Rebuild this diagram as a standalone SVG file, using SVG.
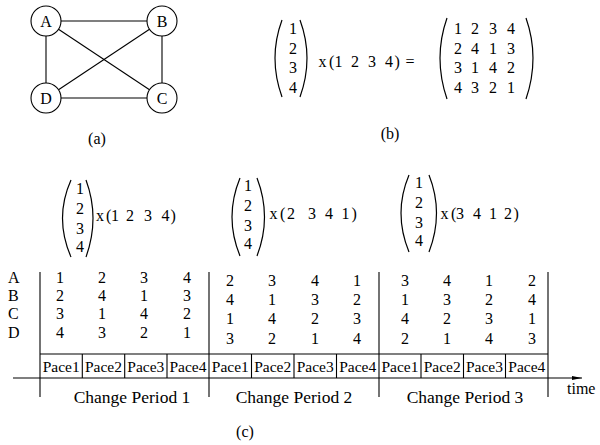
<svg xmlns="http://www.w3.org/2000/svg" width="600" height="445" viewBox="0 0 600 445" font-family="'Liberation Serif', 'Times New Roman', Times, serif">
<style>
text{font-family:'Liberation Serif','Times New Roman',Times,serif;font-size:16px;fill:#000}
.m{text-anchor:middle}
.cp{font-size:17.5px;text-anchor:middle}
.pc{font-size:15.5px;text-anchor:middle}
.ln{stroke:#000;stroke-width:1.1;fill:none}
.nd{stroke:#000;stroke-width:1.1;fill:#fff}
.par{stroke:#000;stroke-width:1.2;fill:none}
</style>
<defs>
<marker id="arr" markerWidth="10" markerHeight="6" refX="10" refY="3" orient="auto" markerUnits="userSpaceOnUse">
<path d="M0,1 L10,3 L0,5 Z" fill="#000"/>
</marker>
</defs>

<!-- (a) graph -->
<g id="edges">
<line class="ln" x1="61" y1="21" x2="147" y2="21"/>
<line class="ln" x1="46" y1="36" x2="46" y2="83"/>
<line class="ln" x1="162" y1="36" x2="162" y2="83"/>
<line class="ln" x1="61" y1="98" x2="147" y2="98"/>
<line class="ln" x1="58.5" y1="29.3" x2="149.5" y2="89.7"/>
<line class="ln" x1="149.5" y1="29.3" x2="58.5" y2="89.7"/>
</g>
<g id="nodeA"><circle class="nd" cx="46" cy="21" r="15"/><text class="m" x="46" y="26.5">A</text></g>
<g id="nodeB"><circle class="nd" cx="162" cy="21" r="15"/><text class="m" x="162" y="26.5">B</text></g>
<g id="nodeC"><circle class="nd" cx="162" cy="98" r="15"/><text class="m" x="162" y="103.5">C</text></g>
<g id="nodeD"><circle class="nd" cx="46" cy="98" r="15"/><text class="m" x="46" y="103.5">D</text></g>
<text class="m" x="97" y="144">(a)</text>

<!-- (b) -->
<g id="eqb">
<path class="par" d="M282,20 Q268,58 282,97"/>
<path class="par" d="M300,20 Q314,58 300,97"/>
<text class="m" x="293" y="34">1</text>
<text class="m" x="293" y="54">2</text>
<text class="m" x="293" y="73">3</text>
<text class="m" x="293" y="92.5">4</text>
<text x="318.5" y="67">x</text>
<text x="329" y="67">(</text>
<text class="m" x="338.5" y="67">1</text>
<text class="m" x="355" y="67">2</text>
<text class="m" x="372" y="67">3</text>
<text class="m" x="389" y="67">4</text>
<text x="394.5" y="67">)</text>
<text x="405.5" y="67">=</text>
<path class="par" d="M447,18 Q433,58 447,99"/>
<path class="par" d="M526,18 Q540,58 526,99"/>
<text class="m" x="458" y="34">1</text><text class="m" x="475" y="34">2</text><text class="m" x="493" y="34">3</text><text class="m" x="511" y="34">4</text>
<text class="m" x="458" y="54">2</text><text class="m" x="475" y="54">4</text><text class="m" x="493" y="54">1</text><text class="m" x="511" y="54">3</text>
<text class="m" x="458" y="73">3</text><text class="m" x="475" y="73">1</text><text class="m" x="493" y="73">4</text><text class="m" x="511" y="73">2</text>
<text class="m" x="458" y="92.5">4</text><text class="m" x="475" y="92.5">3</text><text class="m" x="493" y="92.5">2</text><text class="m" x="511" y="92.5">1</text>
</g>
<text class="m" x="390" y="139">(b)</text>

<!-- (c) vectors -->
<g id="vec1">
<path class="par" d="M71,180 Q54,218 71,257"/>
<path class="par" d="M86,180 Q100,218 86,257"/>
<text class="m" x="80" y="194">1</text>
<text class="m" x="80" y="214">2</text>
<text class="m" x="80" y="233.5">3</text>
<text class="m" x="80" y="252">4</text>
<text x="96" y="221">x</text>
<text x="106" y="221">(</text>
<text class="m" x="115" y="221">1</text>
<text class="m" x="130" y="221">2</text>
<text class="m" x="148" y="221">3</text>
<text class="m" x="165.5" y="221">4</text>
<text x="170.5" y="221">)</text>
</g>
<g id="vec2">
<path class="par" d="M240,178 Q224,217 240,256"/>
<path class="par" d="M257,178 Q272,217 257,256"/>
<text class="m" x="248" y="191">1</text>
<text class="m" x="248" y="211">2</text>
<text class="m" x="248" y="230.5">3</text>
<text class="m" x="248" y="249">4</text>
<text x="269.5" y="219">x</text>
<text x="280" y="219">(</text>
<text class="m" x="291" y="219">2</text>
<text class="m" x="312" y="219">3</text>
<text class="m" x="329" y="219">4</text>
<text class="m" x="345.5" y="219">1</text>
<text x="351.5" y="219">)</text>
</g>
<g id="vec3">
<path class="par" d="M409,175 Q393,213 409,252"/>
<path class="par" d="M429,175 Q444,213 429,252"/>
<text class="m" x="419" y="188">1</text>
<text class="m" x="419" y="208">2</text>
<text class="m" x="419" y="227.5">3</text>
<text class="m" x="419" y="246">4</text>
<text x="440.5" y="219">x</text>
<text x="451" y="219">(</text>
<text class="m" x="460" y="219">3</text>
<text class="m" x="477" y="219">4</text>
<text class="m" x="493" y="219">1</text>
<text class="m" x="508" y="219">2</text>
<text x="513.5" y="219">)</text>
</g>

<!-- table -->
<g id="rowlabels">
<text x="8" y="282.5">A</text>
<text x="8" y="300.5">B</text>
<text x="8" y="318.5">C</text>
<text x="8" y="337.5">D</text>
</g>
<g id="period1">
<text class="m" x="60" y="282.5">1</text><text class="m" x="102" y="282.5">2</text><text class="m" x="144" y="282.5">3</text><text class="m" x="187" y="282.5">4</text>
<text class="m" x="60" y="300.5">2</text><text class="m" x="102" y="300.5">4</text><text class="m" x="144" y="300.5">1</text><text class="m" x="187" y="300.5">3</text>
<text class="m" x="60" y="318.5">3</text><text class="m" x="102" y="318.5">1</text><text class="m" x="144" y="318.5">4</text><text class="m" x="187" y="318.5">2</text>
<text class="m" x="60" y="337.5">4</text><text class="m" x="102" y="337.5">3</text><text class="m" x="144" y="337.5">2</text><text class="m" x="187" y="337.5">1</text>
</g>
<g id="period2">
<text class="m" x="230" y="285.5">2</text><text class="m" x="272" y="285.5">3</text><text class="m" x="315" y="285.5">4</text><text class="m" x="357" y="285.5">1</text>
<text class="m" x="230" y="304.5">4</text><text class="m" x="272" y="304.5">1</text><text class="m" x="315" y="304.5">3</text><text class="m" x="357" y="304.5">2</text>
<text class="m" x="230" y="324">1</text><text class="m" x="272" y="324">4</text><text class="m" x="315" y="324">2</text><text class="m" x="357" y="324">3</text>
<text class="m" x="230" y="343.5">3</text><text class="m" x="272" y="343.5">2</text><text class="m" x="315" y="343.5">1</text><text class="m" x="357" y="343.5">4</text>
</g>
<g id="period3">
<text class="m" x="405" y="285.5">3</text><text class="m" x="447" y="285.5">4</text><text class="m" x="489" y="285.5">1</text><text class="m" x="532" y="285.5">2</text>
<text class="m" x="405" y="304.5">1</text><text class="m" x="447" y="304.5">3</text><text class="m" x="489" y="304.5">2</text><text class="m" x="532" y="304.5">4</text>
<text class="m" x="405" y="324">4</text><text class="m" x="447" y="324">2</text><text class="m" x="489" y="324">3</text><text class="m" x="532" y="324">1</text>
<text class="m" x="405" y="343.5">2</text><text class="m" x="447" y="343.5">1</text><text class="m" x="489" y="343.5">4</text><text class="m" x="532" y="343.5">3</text>
</g>

<g id="timeline">
<line class="ln" x1="40" y1="272" x2="40" y2="397"/>
<line class="ln" x1="209" y1="272" x2="209" y2="397"/>
<line class="ln" x1="379" y1="272" x2="379" y2="397"/>
<line class="ln" x1="548" y1="272" x2="548" y2="397"/>
<line class="ln" x1="40" y1="354" x2="548" y2="354"/>
<line class="ln" x1="13" y1="378" x2="582" y2="378" marker-end="url(#arr)"/>
<line class="ln" x1="82.3" y1="354" x2="82.3" y2="378"/>
<line class="ln" x1="124.7" y1="354" x2="124.7" y2="378"/>
<line class="ln" x1="167" y1="354" x2="167" y2="378"/>
<line class="ln" x1="251.5" y1="354" x2="251.5" y2="378"/>
<line class="ln" x1="294" y1="354" x2="294" y2="378"/>
<line class="ln" x1="336.5" y1="354" x2="336.5" y2="378"/>
<line class="ln" x1="421" y1="354" x2="421" y2="378"/>
<line class="ln" x1="463.5" y1="354" x2="463.5" y2="378"/>
<line class="ln" x1="505.5" y1="354" x2="505.5" y2="378"/>
</g>
<g id="paces">
<text class="pc" x="61.2" y="372">Pace1</text><text class="pc" x="103.5" y="372">Pace2</text><text class="pc" x="145.8" y="372">Pace3</text><text class="pc" x="188" y="372">Pace4</text>
<text class="pc" x="230.3" y="372">Pace1</text><text class="pc" x="272.7" y="372">Pace2</text><text class="pc" x="315.2" y="372">Pace3</text><text class="pc" x="357.7" y="372">Pace4</text>
<text class="pc" x="400" y="372">Pace1</text><text class="pc" x="442.2" y="372">Pace2</text><text class="pc" x="484.5" y="372">Pace3</text><text class="pc" x="526.8" y="372">Pace4</text>
</g>
<text class="cp" x="132" y="403">Change Period 1</text>
<text class="cp" x="294" y="403">Change Period 2</text>
<text class="cp" x="465" y="403">Change Period 3</text>
<text x="567" y="394">time</text>
<text class="m" x="245" y="437">(c)</text>
</svg>
